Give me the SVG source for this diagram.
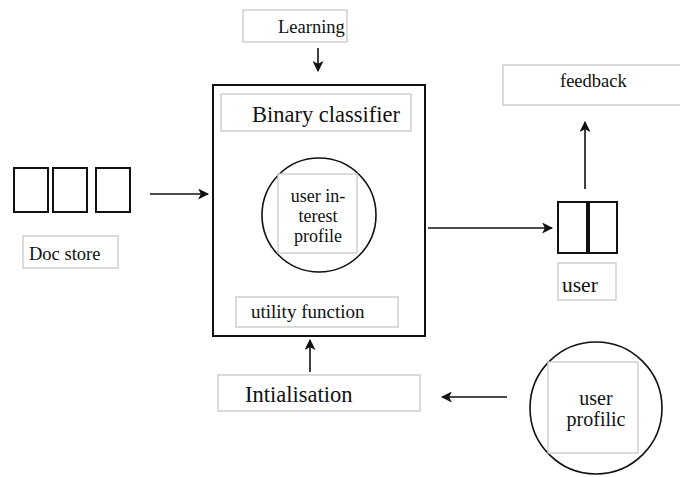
<svg xmlns="http://www.w3.org/2000/svg" width="680" height="477" viewBox="0 0 680 477">
<defs>
<style>
.lb{fill:#fff;stroke:#c8c8c8;stroke-width:1.3}
.dk{fill:#fff;stroke:#111;stroke-width:2}
.c{stroke:#111;stroke-width:1.6;fill:none}
</style>
<marker id="ah" viewBox="0 0 10 10" refX="9" refY="5" markerWidth="11" markerHeight="11" markerUnits="userSpaceOnUse" orient="auto">
<path d="M0,0 L10,5 L0,10 L2.5,5 Z" fill="#111"/>
</marker>
</defs>
<rect width="680" height="477" fill="#fff"/>
<g font-family="'Liberation Serif', 'Times New Roman', serif" fill="#111">
<g id="learning">
<rect class="lb" x="243" y="10" width="104" height="32"/>
<text x="278" y="33" font-size="18.5">Learning</text>
</g>
<g id="main">
<rect class="dk" x="213" y="85" width="212" height="251"/>
</g>
<g id="binary">
<rect class="lb" x="221" y="94" width="190" height="37"/>
<text x="252" y="122" font-size="22.5">Binary classifier</text>
</g>
<g id="interest">
<circle cx="319" cy="215" r="57" fill="#fff" stroke="#111" stroke-width="1.6"/>
<rect class="lb" x="278" y="174" width="79" height="79"/>
<text font-size="18" text-anchor="middle"><tspan x="318" y="202">user in-</tspan><tspan x="318" y="222">terest</tspan><tspan x="318" y="242">profile</tspan></text>
</g>
<g id="utility">
<rect class="lb" x="236" y="297" width="162" height="30"/>
<text x="251" y="318" font-size="19">utility function</text>
</g>
<g id="docstore">
<rect class="dk" x="14" y="168" width="34" height="44"/>
<rect class="dk" x="53" y="168" width="34" height="44"/>
<rect class="dk" x="96" y="168" width="34" height="44"/>
<rect class="lb" x="23" y="236" width="95" height="32"/>
<text x="29" y="260" font-size="18.5">Doc store</text>
</g>
<g id="feedback">
<rect class="lb" x="503" y="65" width="180" height="40"/>
<text x="560" y="87" font-size="18.5">feedback</text>
</g>
<g id="user">
<rect class="dk" x="558" y="202" width="29" height="51"/>
<rect class="dk" x="589" y="202" width="28" height="51"/>
<rect class="lb" x="558" y="263" width="58" height="37"/>
<text x="562" y="292" font-size="21.5">user</text>
</g>
<g id="initialisation">
<rect class="lb" x="218" y="375" width="202" height="36"/>
<text x="245" y="402" font-size="22.5">Intialisation</text>
</g>
<g id="profilic">
<circle cx="596" cy="408" r="66" fill="#fff" stroke="#111" stroke-width="1.6"/>
<rect class="lb" x="548" y="362" width="90" height="91"/>
<text font-size="20" text-anchor="middle"><tspan x="596" y="405">user</tspan><tspan x="596" y="426">profilic</tspan></text>
</g>
</g>
<g id="connectors">
<line class="c" x1="318" y1="48" x2="318" y2="71" marker-end="url(#ah)"/>
<line class="c" x1="150" y1="194" x2="208" y2="194" marker-end="url(#ah)"/>
<line class="c" x1="428" y1="228" x2="552" y2="228" marker-end="url(#ah)"/>
<line class="c" x1="585" y1="189" x2="585" y2="122" marker-end="url(#ah)"/>
<line class="c" x1="310" y1="372" x2="310" y2="340" marker-end="url(#ah)"/>
<line class="c" x1="507" y1="397" x2="442" y2="397" marker-end="url(#ah)"/>
</g>
</svg>
